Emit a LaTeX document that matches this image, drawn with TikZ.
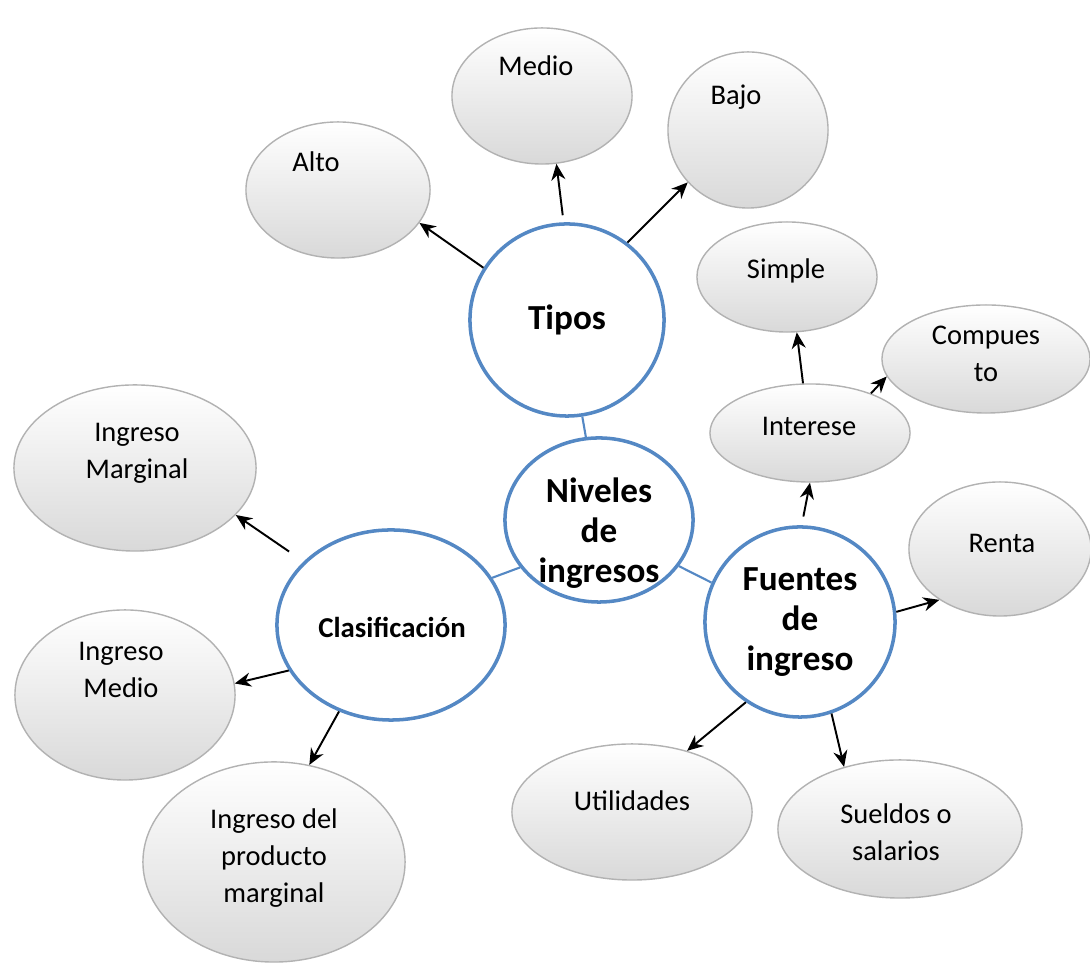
\documentclass[tikz,border=0pt]{standalone}
\usepackage{fontspec}
\setmainfont{Carlito}
\usepackage{tikz}
\usetikzlibrary{shapes.geometric, arrows.meta}
\definecolor{mapblue}{RGB}{84,136,196}

\begin{document}
\begin{tikzpicture}[x=0.01cm, y=-0.01cm,
	hub/.style={ellipse, draw=mapblue, line width=1pt, fill=white, inner sep=0pt},
	bub/.style={ellipse, draw=gray!60, line width=0.4pt, top color=white, middle color=white, bottom color=gray!30, inner sep=0pt},
	sz/.style 2 args={minimum width=#1cm, minimum height=#2cm},
	hubtxt/.style={align=center, font=\bfseries\fontsize{10}{11.4}\selectfont},
	bubtxt/.style={align=center, font=\fontsize{8.1}{10.6}\selectfont},
	link/.style={draw=mapblue, line width=0.6pt},
	arr/.style={-{Stealth[length=4.6pt, width=4pt]}, line width=0.55pt}]
				\useasboundingbox (0,0) rectangle (1090,965);
				%% centro y ramas
				\node[hub, sz={1.94}{1.92}] (tipos) at (567,320) {};
				\node[hub, sz={1.88}{1.64}] (niveles) at (599,520) {};
				\node[hub, sz={2.28}{1.90}] (clasif) at (391,625) {};
				\node[hub, sz={1.90}{1.90}] (fuentes) at (800,622) {};
				\node[hubtxt] (tiposT) at (567,320) {Tipos};
				\node[hubtxt] (nivelesT) at (599,533) {Niveles\\de\\ingresos};
				\node[hubtxt, font=\bfseries\fontsize{8.2}{10}\selectfont] (clasifT) at (392,627) {Clasificación};
				\node[hubtxt] (fuentesT) at (800,622) {Fuentes\\de\\ingreso};

				%% tipos
				\node[bub, sz={1.84}{1.36}] (alto) at (338,190) {};
				\node[bub, sz={1.80}{1.36}] (medio) at (542,96) {};
				\node[bub, sz={1.60}{1.56}] (bajo) at (748,130) {};
				\node[bubtxt] (altoT) at (316,162) {Alto};
				\node[bubtxt] (medioT) at (536,66) {Medio};
				\node[bubtxt] (bajoT) at (736,97) {Bajo};

				%% fuentes de ingreso
				\node[bub, sz={1.80}{1.10}] (simple) at (787,277) {};
				\node[bub, sz={2.08}{1.08}] (compuesto) at (986,359) {};
				\node[bub, sz={2.00}{0.98}] (interese) at (810,433) {};
				\node[bub, sz={1.82}{1.34}] (renta) at (1000,549) {};
				\node[bub, sz={2.44}{1.38}] (sueldos) at (900,829) {};
				\node[bub, sz={2.40}{1.36}] (utilidades) at (632,812) {};
				\node[bubtxt] (simpleT) at (786,271) {Simple};
				\node[bubtxt] (compuestoT) at (986,354) {Compues\\to};
				\node[bubtxt] (intereseT) at (809,426) {Interese};
				\node[bubtxt] (rentaT) at (1002,543) {Renta};
				\node[bubtxt] (sueldosT) at (896,832) {Sueldos o\\salarios};
				\node[bubtxt] (utilidadesT) at (632,801) {Utilidades};

				%% clasificacion
				\node[bub, sz={2.42}{1.66}] (marginal) at (135,468) {};
				\node[bub, sz={2.20}{1.70}] (ingmedio) at (125,695) {};
				\node[bub, sz={2.62}{2.00}] (producto) at (274,862) {};
				\node[bubtxt] (marginalT) at (137,453) {Ingreso\\Marginal};
				\node[bubtxt] (ingmedioT) at (121,670) {Ingreso\\Medio};
				\node[bubtxt] (productoT) at (274,858) {Ingreso del\\producto\\marginal};

				\draw[link] (tipos.279) -- (niveles.99);
				\draw[link] (niveles.211) -- (clasif.25);
				\draw[link] (niveles.330) -- (fuentes.156);

				\draw[arr] (tipos.148) -- (alto.338);
				\draw[arr, shorten <=2pt] (tipos.92) -- (medio.282);
				\draw[arr] (tipos.52) -- (bajo.221);
				\draw[arr] (interese.98) -- (simple.280);
				\draw[arr] (interese.33) -- (compuesto.190);
				\draw[arr, shorten <=2.5pt] (fuentes.89) -- (interese.270);
				\draw[arr] (fuentes.6) -- (renta.220);
				\draw[arr] (fuentes.236) -- (utilidades.48);
				\draw[arr] (fuentes.289) -- (sueldos.132);
				\draw[arr, shorten <=5pt] (clasif.144) -- (marginal.335);
				\draw[arr] (clasif.204) -- (ingmedio.6);
				\draw[arr] (clasif.239) -- (producto.70);
\end{tikzpicture}
\end{document}
